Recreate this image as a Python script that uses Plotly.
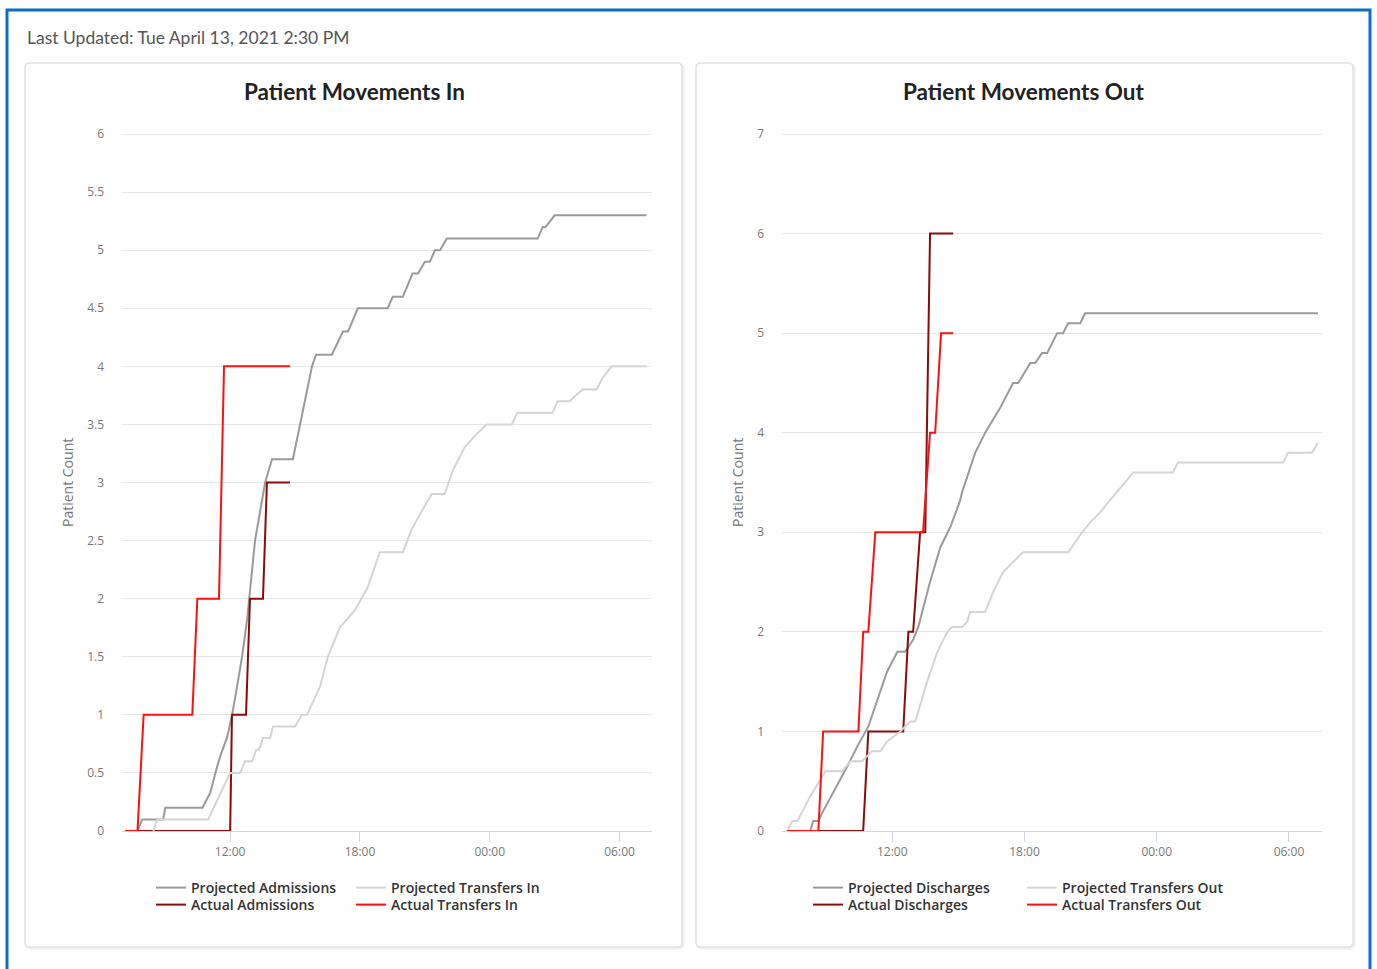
import plotly.graph_objects as go
from datetime import datetime, timedelta

# ---------------- DATA ----------------
# Times are clock times starting on 2021-04-13; they roll over past midnight.
proj_adm_time = ["07:43", "07:56", "08:54", "09:00", "10:43", "11:05", "11:19", "11:32", "11:52",
                 "12:06", "12:19", "12:33", "12:47", "12:55", "13:04", "13:09", "13:37", "13:56",
                 "14:54", "15:14", "15:47", "15:58", "16:42", "17:13", "17:27", "17:54", "19:17",
                 "19:31", "19:59", "20:26", "20:41", "21:00", "21:14", "21:28", "21:42", "22:01",
                 "02:13", "02:27", "02:35", "03:00", "07:15"]
proj_adm_vals = [0, 0.1, 0.1, 0.2, 0.2, 0.33, 0.5, 0.64, 0.81,
                 1.01, 1.24, 1.5, 1.82, 2.05, 2.33, 2.5, 3.0, 3.2,
                 3.2, 3.5, 4.0, 4.1, 4.1, 4.3, 4.3, 4.5, 4.5,
                 4.6, 4.6, 4.8, 4.8, 4.9, 4.9, 5.0, 5.0, 5.1,
                 5.1, 5.2, 5.2, 5.3, 5.3]

proj_tin_time = ["08:27", "08:38", "10:59", "12:00", "12:28", "12:41", "13:01", "13:12", "13:20",
                 "13:31", "13:51", "13:59", "15:00", "15:19", "15:33", "16:09", "16:31", "17:05",
                 "17:18", "17:46", "18:22", "18:55", "19:59", "20:24", "21:00", "21:19", "21:55",
                 "22:17", "22:50", "23:18", "23:51", "01:01", "01:17", "02:54", "03:08", "03:41",
                 "04:17", "04:56", "05:13", "05:38", "07:15"]
proj_tin_vals = [0, 0.1, 0.1, 0.5, 0.5, 0.6, 0.6, 0.7, 0.7,
                 0.8, 0.8, 0.9, 0.9, 1.0, 1.0, 1.24, 1.5, 1.76,
                 1.8, 1.9, 2.1, 2.4, 2.4, 2.6, 2.8, 2.9, 2.9,
                 3.1, 3.3, 3.4, 3.5, 3.5, 3.6, 3.6, 3.7, 3.7,
                 3.8, 3.8, 3.9, 4.0, 4.0]

act_adm_time = ["07:09", "12:00", "12:05", "12:44", "12:55", "13:31", "13:42", "14:46"]
act_adm_vals = [0, 0, 1, 1, 2, 2, 3, 3]

act_tin_time = ["07:09", "07:43", "08:00", "10:15", "10:29", "11:29", "11:43", "14:46"]
act_tin_vals = [0, 0, 1, 1, 2, 2, 4, 4]

proj_dis_time = ["08:17", "08:25", "08:39", "08:52", "09:58", "10:25", "10:55", "11:19", "11:46",
                 "12:14", "12:35", "12:57", "13:11", "13:43", "14:11", "14:38", "15:05", "15:10",
                 "15:46", "16:13", "16:54", "17:29", "17:43", "18:16", "18:29", "18:48", "19:02",
                 "19:29", "19:45", "19:59", "20:32", "20:45", "07:19"]
proj_dis_vals = [0, 0.1, 0.1, 0.2, 0.65, 0.85, 1.05, 1.3, 1.6,
                 1.8, 1.8, 1.92, 2.05, 2.5, 2.85, 3.05, 3.32, 3.4,
                 3.8, 4.0, 4.25, 4.5, 4.5, 4.7, 4.7, 4.8, 4.8,
                 5.0, 5.0, 5.1, 5.1, 5.2, 5.2]

proj_tout_time = ["07:14", "07:28", "07:42", "08:17", "08:58", "09:44", "10:06", "10:38", "11:05",
                  "11:28", "11:46", "12:22", "12:49", "13:03", "13:35", "14:03", "14:30", "14:43",
                  "15:10", "15:24", "15:32", "16:13", "16:35", "17:02", "17:29", "17:56", "19:59",
                  "20:18", "20:37", "20:59", "21:26", "21:48", "22:56", "00:44", "00:58", "05:44",
                  "05:58", "07:03", "07:19"]
proj_tout_vals = [0, 0.1, 0.1, 0.35, 0.6, 0.6, 0.7, 0.7, 0.8,
                  0.8, 0.9, 1.0, 1.1, 1.1, 1.5, 1.8, 2.0, 2.05,
                  2.05, 2.1, 2.2, 2.2, 2.4, 2.6, 2.7, 2.8, 2.8,
                  2.9, 3.0, 3.1, 3.2, 3.3, 3.6, 3.6, 3.7, 3.7,
                  3.8, 3.8, 3.9]

act_dis_time = ["07:14", "10:41", "10:55", "12:30", "12:44", "12:57", "13:16", "13:30", "13:43", "14:46"]
act_dis_vals = [0, 0, 1, 1, 2, 2, 3, 3, 6, 6]

act_tout_time = ["07:14", "08:39", "08:52", "10:28", "10:41", "10:55", "11:14", "13:24", "13:43",
                 "13:57", "14:13", "14:46"]
act_tout_vals = [0, 0, 1, 1, 2, 2, 3, 3, 4, 4, 5, 5]

x_ticks_label_fmt = "%H:%M"
left_title = "Patient Movements In"
right_title = "Patient Movements Out"
updated_text = "Last Updated: Tue April 13, 2021 2:30 PM"
y_title = "Patient Count"
left_ymax, right_ymax = 6, 7


def to_dt(times, start="2021-04-13"):
    base = datetime.fromisoformat(start)
    out, day, prev = [], 0, None
    for t in times:
        h, m = map(int, t.split(":"))
        mins = h * 60 + m
        if prev is not None and mins < prev:
            day += 1
        prev = mins
        out.append(base + timedelta(days=day, minutes=mins))
    return out


# ---------------- LAYOUT HELPERS ----------------
W, H = 1377, 969


def fx(x):
    return x / W


def fy(y):
    return 1 - y / H


FONT = "Lato, 'Open Sans', sans-serif"
FONT2 = "'Open Sans', Lato, sans-serif"
C_PROJ = "#9a9a9a"
C_PROJ_T = "#d4d4d4"
C_ACT = "#8b0a0a"
C_ACT_T = "#ff0f0f"

fig = go.Figure()

# (times, values, name, color, xaxis, yaxis, legend-id, legend text x, legend row y)
series = [
    (proj_adm_time, proj_adm_vals, "Projected Admissions", C_PROJ, "x", "y", "legend", 191, 888),
    (act_adm_time, act_adm_vals, "Actual Admissions", C_ACT, "x", "y", "legend2", 191, 905),
    (proj_tin_time, proj_tin_vals, "Projected Transfers In", C_PROJ_T, "x", "y", "legend3", 391, 888),
    (act_tin_time, act_tin_vals, "Actual Transfers In", C_ACT_T, "x", "y", "legend4", 391, 905),
    (proj_dis_time, proj_dis_vals, "Projected Discharges", C_PROJ, "x2", "y2", "legend5", 848, 888),
    (act_dis_time, act_dis_vals, "Actual Discharges", C_ACT, "x2", "y2", "legend6", 848, 905),
    (proj_tout_time, proj_tout_vals, "Projected Transfers Out", C_PROJ_T, "x2", "y2", "legend7", 1062, 888),
    (act_tout_time, act_tout_vals, "Actual Transfers Out", C_ACT_T, "x2", "y2", "legend8", 1062, 905),
]

leg_font = dict(family=FONT2, size=14, color="#333", weight=600)
legends = {}
for times, vals, name, color, xa, ya, lid, lx, ly in series:
    fig.add_trace(go.Scatter(
        x=to_dt(times), y=vals, name=name, mode="lines",
        line=dict(color=color, width=2), xaxis=xa, yaxis=ya, legend=lid,
        hoverinfo="x+y+name"))
    legends[lid] = dict(x=fx(lx - 40), y=fy(ly), xanchor="left", yanchor="middle",
                        orientation="v", bgcolor="rgba(0,0,0,0)", font=leg_font,
                        itemwidth=30, tracegroupgap=0, itemclick=False, itemdoubleclick=False)

xr = ["2021-04-13 07:00", "2021-04-14 07:30"]
xaxis_common = dict(
    type="date", range=xr, tickformat=x_ticks_label_fmt, dtick=6 * 3600 * 1000,
    tick0="2021-04-13 00:00", showgrid=False, zeroline=False, showline=True,
    linecolor="#ccd6eb", linewidth=1, ticks="outside", ticklen=10, tickcolor="#ccd6eb",
    tickfont=dict(family=FONT2, size=12, color="#777"), fixedrange=True, automargin=False)
yaxis_common = dict(
    showgrid=True, gridcolor="#e6e6e6", gridwidth=1, zeroline=False, showline=False,
    ticks="", ticklabelstandoff=17, tickfont=dict(family=FONT2, size=12, color="#777"),
    fixedrange=True, automargin=False)

# plot area: value 0 at y=831 px, top tick at y=134 px; a few px of headroom so the
# top gridline is drawn
ybot, ytick_top, ytop = 831, 134, 129
pad_l = left_ymax * (ytick_top - ytop) / (ybot - ytick_top)
pad_r = right_ymax * (ytick_top - ytop) / (ybot - ytick_top)

fig.update_layout(
    width=W, height=H, margin=dict(l=0, r=0, t=0, b=0, pad=0, autoexpand=False),
    paper_bgcolor="white", plot_bgcolor="white", showlegend=True,
    xaxis=dict(domain=[fx(122), fx(652)], anchor="y", **xaxis_common),
    yaxis=dict(domain=[fy(ybot), fy(ytop)], anchor="x", range=[0, left_ymax + pad_l], tick0=0,
               dtick=0.5, **yaxis_common),
    xaxis2=dict(domain=[fx(782), fx(1322)], anchor="y2", **xaxis_common),
    yaxis2=dict(domain=[fy(ybot), fy(ytop)], anchor="x2", range=[0, right_ymax + pad_r], tick0=0,
                dtick=1, **yaxis_common),
    **legends,
)


def rrect(x0, y0, x1, y1, r=5):
    # rounded rectangle path in paper coords from pixel coords
    rx, ry = r / W, r / H
    X0, X1 = fx(x0), fx(x1)
    Y0, Y1 = fy(y0), fy(y1)  # Y0 top (higher), Y1 bottom
    return (f"M {X0+rx},{Y0} L {X1-rx},{Y0} Q {X1},{Y0} {X1},{Y0-ry} "
            f"L {X1},{Y1+ry} Q {X1},{Y1} {X1-rx},{Y1} L {X0+rx},{Y1} "
            f"Q {X0},{Y1} {X0},{Y1+ry} L {X0},{Y0-ry} Q {X0},{Y0} {X0+rx},{Y0} Z")


shapes = [
    # outer blue frame
    dict(type="rect", xref="paper", yref="paper", x0=fx(7), x1=fx(1370), y0=fy(10), y1=fy(1000),
         line=dict(color="#0a6fc9", width=3), fillcolor="rgba(0,0,0,0)", layer="below"),
]
for (a, b) in [(25, 682), (696, 1353)]:
    shapes.append(dict(type="path", xref="paper", yref="paper", path=rrect(a + 1, 64, b + 1, 948),
                       line=dict(color="#efefef", width=3), fillcolor="rgba(0,0,0,0)", layer="below"))
    shapes.append(dict(type="path", xref="paper", yref="paper", path=rrect(a, 63, b, 947),
                       line=dict(color="#e2e2e2", width=1.5), fillcolor="white", layer="below"))
fig.update_layout(shapes=shapes)

ann = [
    dict(text=updated_text, x=fx(25), y=fy(38), xanchor="left", yanchor="middle",
         font=dict(family=FONT, size=17.5, color="#555")),
    dict(text=left_title, x=fx(354), y=fy(91), xanchor="center", yanchor="middle",
         font=dict(family=FONT, size=22.5, color="#222", weight="bold")),
    dict(text=right_title, x=fx(1024), y=fy(91), xanchor="center", yanchor="middle",
         font=dict(family=FONT, size=22.5, color="#222", weight="bold")),
    dict(text=y_title, x=fx(67), y=fy(483), textangle=-90, xanchor="center", yanchor="middle",
         font=dict(family=FONT2, size=14, color="#777")),
    dict(text=y_title, x=fx(737), y=fy(483), textangle=-90, xanchor="center", yanchor="middle",
         font=dict(family=FONT2, size=14, color="#777")),
]
for a in ann:
    a.update(xref="paper", yref="paper", showarrow=False)
fig.update_layout(annotations=ann)

fig.write_html("out.html", config={"displayModeBar": False},
               post_script="document.body.style.margin='0';")
